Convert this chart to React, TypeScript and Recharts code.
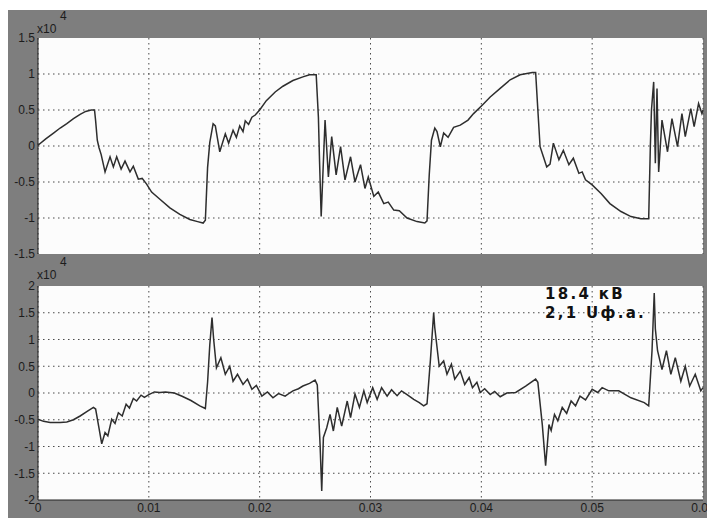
import { LineChart, Line, XAxis, YAxis, CartesianGrid, ReferenceLine } from "recharts";

// time in ms, values in units of 1e4
const topT = [
  0, 0.7, 1.4, 2.0, 2.6, 3.2, 3.8, 4.3, 4.8, 5.1, 5.2, 5.35, 5.5, 5.7, 6.05, 6.5, 6.8, 7.1, 7.5, 7.85,
  8.3, 8.6, 9.05, 9.4, 9.8, 10.25, 11.0, 11.9, 12.8, 13.7, 14.4, 14.9, 15.1, 15.3, 15.5, 15.8, 16.0, 16.4, 16.9, 17.2,
  17.6, 17.9, 18.2, 18.5, 18.7, 19.0, 19.3, 19.6, 20.0, 20.6, 21.4, 22.1, 23.0, 23.9, 24.5, 25.1, 25.3, 25.4, 25.55, 25.65,
  25.9, 26.2, 26.5, 26.9, 27.3, 27.7, 28.2, 28.6, 29.1, 29.5, 29.8, 30.3, 30.7, 31.2, 31.6, 32.1, 32.6, 33.3, 34.2, 34.9,
  35.1, 35.3, 35.5, 35.8, 36.0, 36.3, 36.6, 37.0, 37.5, 38.1, 38.8, 39.3, 40.1, 40.8, 41.7, 42.6, 43.5, 44.6, 44.9, 45.1,
  45.3, 45.6, 45.9, 46.2, 46.5, 47.0, 47.4, 47.9, 48.3, 48.8, 49.1, 49.4, 50.0, 50.8, 51.6, 52.6, 53.5, 54.4, 55.1, 55.25,
  55.35, 55.55, 55.7, 55.85, 56.0, 56.3, 56.8, 57.2, 57.7, 58.1, 58.4, 58.9, 59.2, 59.6, 59.9, 60.0,
];
const topV = [
  0.01, 0.1, 0.18, 0.25, 0.31, 0.38, 0.44, 0.48, 0.5, 0.5, 0.35, 0.08, -0.02, -0.12, -0.36, -0.15, -0.29, -0.15, -0.32, -0.21,
  -0.36, -0.28, -0.46, -0.45, -0.53, -0.64, -0.74, -0.86, -0.95, -1.02, -1.05, -1.07, -1.03, -0.3, 0.05, 0.31, 0.28, -0.08, 0.17, 0.04,
  0.22, 0.12, 0.28, 0.2, 0.35, 0.3, 0.4, 0.43, 0.5, 0.63, 0.75, 0.83, 0.91, 0.96, 0.99, 0.99, 0.4, -0.2, -0.98, -0.6,
  0.36, -0.43, 0.13, -0.4, -0.01, -0.47, -0.15, -0.5, -0.26, -0.59, -0.43, -0.7, -0.64, -0.8, -0.78, -0.89, -0.9, -1.0, -1.05, -1.07,
  -1.04, -0.4, 0.08, 0.25, 0.2, -0.01, 0.18, 0.12, 0.26, 0.29, 0.36, 0.45, 0.57, 0.68, 0.8, 0.92, 0.99, 1.02, 1.02, 0.5,
  -0.01, -0.15, -0.29, -0.25, 0.04, -0.19, -0.06, -0.26, -0.17, -0.38, -0.36, -0.47, -0.54, -0.66, -0.8, -0.91, -0.98, -1.01, -1.01, 0.0,
  0.5, 0.89, -0.24, 0.8, -0.36, 0.36, -0.08, 0.38, -0.01, 0.45, 0.13, 0.52, 0.27, 0.59, 0.45, 0.5,
];

const bottomT = [
  0, 0.5, 1.1, 2.0, 2.6, 3.2, 3.8, 4.4, 5.0, 5.2, 5.5, 5.75, 6.05, 6.3, 6.65, 6.95, 7.25, 7.6, 7.95, 8.25,
  8.6, 8.9, 9.3, 9.6, 10.0, 10.5, 11.0, 11.5, 12.3, 13.0, 13.8, 14.6, 15.1, 15.3, 15.5, 15.7, 15.85, 16.1, 16.5, 16.9,
  17.3, 17.6, 18.0, 18.5, 18.9, 19.3, 19.7, 20.2, 20.7, 21.2, 21.7, 22.3, 22.7, 23.0, 23.5, 23.9, 24.5, 25.0, 25.2, 25.45,
  25.6, 25.75, 26.05, 26.35, 26.65, 27.0, 27.4, 27.9, 28.2, 28.6, 29.0, 29.4, 29.7, 30.2, 30.6, 31.0, 31.5, 31.9, 32.4, 32.8,
  33.3, 33.9, 34.4, 34.8, 35.1, 35.4, 35.7, 35.8, 36.2, 36.6, 36.9, 37.3, 37.6, 38.1, 38.5, 38.9, 39.2, 39.6, 39.9, 40.3,
  40.8, 41.2, 41.7, 42.3, 43.1, 44.0, 44.9, 45.1, 45.5, 45.8, 46.1, 46.3, 46.6, 46.9, 47.3, 47.7, 48.1, 48.5, 48.9, 49.4,
  50.0, 50.5, 50.9, 51.5, 52.4, 53.5, 54.7, 55.1, 55.4, 55.6, 55.7, 55.9, 56.3, 56.7, 57.1, 57.5, 58.0, 58.4, 58.8, 59.3,
  59.8, 60.0,
];
const bottomV = [
  -0.49, -0.53, -0.55, -0.55, -0.54, -0.5, -0.43, -0.35, -0.27, -0.3, -0.65, -0.95, -0.74, -0.8, -0.49, -0.57, -0.37, -0.43, -0.21, -0.28,
  -0.1, -0.15, -0.04, -0.08, -0.03, 0.02, 0.01, 0.02, 0.0, -0.06, -0.14, -0.24, -0.29, 0.2, 0.9, 1.41, 1.0, 0.47, 0.66, 0.35,
  0.5, 0.22, 0.35, 0.16, 0.26, 0.07, 0.14, -0.06, 0.02, -0.09, -0.01, -0.06, 0.0, 0.04, 0.08, 0.13, 0.18, 0.24, 0.15, -0.96,
  -1.83, -0.83, -0.65, -0.4, -0.71, -0.27, -0.62, -0.15, -0.46, -0.02, -0.27, 0.04, -0.18, 0.1, -0.12, 0.1, -0.06, 0.06, -0.05, 0.04,
  -0.03, -0.12, -0.18, -0.24, -0.2, 0.6, 1.5, 1.22, 0.5, 0.6, 0.35, 0.54, 0.26, 0.41, 0.16, 0.29, 0.1, 0.2, 0.01, 0.08,
  -0.03, 0.03, -0.07, 0.0, 0.01, 0.13, 0.26, 0.2, -0.59, -1.36, -0.59, -0.7, -0.4, -0.52, -0.27, -0.38, -0.15, -0.24, -0.06, -0.13,
  0.07, 0.01, 0.1, 0.04, 0.04, -0.09, -0.18, -0.24, 0.79, 1.87, 1.2, 0.79, 0.44, 0.79, 0.35, 0.66, 0.22, 0.5, 0.13, 0.35,
  0.04, 0.1,
];

const xTicks = [0, 10, 20, 30, 40, 50, 60];
const topTicks = [-1.5, -1, -0.5, 0, 0.5, 1, 1.5];
const bottomTicks = [-2, -1.5, -1, -0.5, 0, 0.5, 1, 1.5, 2];
const noteLines = ["18.4 кВ", "2,1 Uф.а."];

const topData = topT.map((t, i) => ({ t, v: topV[i] }));
const bottomData = bottomT.map((t, i) => ({ t, v: bottomV[i] }));

const FONT = '"Liberation Sans", Arial, sans-serif';
const GRID = "#4a4a4a";
const DASH = "1.5 3.5";
const tickStyle = { fill: "#1c1c1c", fontSize: 12, fontFamily: FONT };
const fmtX = (v: number) => (v === 0 ? "0" : String(v / 1000));
const fmtY = (v: number) => String(v);
const emptyTick = () => <g />;

type PanelProps = {
  data: { t: number; v: number }[];
  yTicks: number[];
  top: number;
  height: number;
  marginTop: number;
  showX: boolean;
};

const Panel = ({ data, yTicks, top, height, marginTop, showX }: PanelProps) => {
  const yMin = yTicks[0];
  const yMax = yTicks[yTicks.length - 1];
  return (
    <div style={{ position: "absolute", left: 0, top }}>
      <LineChart width={720} height={height} data={data} margin={{ top: marginTop, right: 17, left: 0, bottom: showX ? 0 : 16 }}>
        <CartesianGrid fill="#fcfcfc" stroke={GRID} strokeDasharray={DASH} horizontal={false} />
        {yTicks.slice(1, -1).map((v) => (
          <ReferenceLine key={v} y={v} stroke={GRID} strokeDasharray={DASH} strokeWidth={1} />
        ))}
        <XAxis
          dataKey="t"
          type="number"
          domain={[0, 60]}
          ticks={xTicks}
          tickFormatter={fmtX}
          tick={showX ? tickStyle : emptyTick}
          tickLine={false}
          tickSize={0}
          tickMargin={3}
          height={showX ? 18 : 0}
          axisLine={{ stroke: "#222" }}
          interval={0}
        />
        <XAxis
          xAxisId="top"
          orientation="top"
          dataKey="t"
          type="number"
          domain={[0, 60]}
          ticks={xTicks}
          tick={emptyTick}
          mirror
          tickSize={6}
          height={0}
          axisLine={{ stroke: "#222" }}
          tickLine={{ stroke: "#222" }}
          interval={0}
        />
        <XAxis
          xAxisId="inner"
          dataKey="t"
          type="number"
          domain={[0, 60]}
          ticks={xTicks}
          tick={emptyTick}
          mirror
          tickSize={6}
          height={0}
          axisLine={false}
          tickLine={{ stroke: "#222" }}
          interval={0}
        />
        <YAxis
          type="number"
          domain={[yMin, yMax]}
          ticks={yTicks}
          tickFormatter={fmtY}
          tick={tickStyle}
          tickLine={false}
          tickSize={0}
          tickMargin={3}
          width={38}
          axisLine={{ stroke: "#222" }}
          interval={0}
        />
        <Line
          type="linear"
          dataKey="v"
          stroke="#2e2e2e"
          strokeWidth={1.5}
          dot={false}
          isAnimationActive={false}
        />
      </LineChart>
    </div>
  );
};

const Exponent = ({ top }: { top: number }) => (
  <div style={{ position: "absolute", left: 37, top, fontFamily: FONT, fontSize: 12, color: "#1c1c1c", lineHeight: "14px" }}>
    <span style={{ position: "absolute", left: 0, top: 13 }}>x10</span>
    <span style={{ position: "absolute", left: 23, top: 0 }}>4</span>
  </div>
);

export default function App() {
  return (
    <div style={{ position: "absolute", left: 0, top: 0, width: 707, height: 518, overflow: "hidden", background: "#ffffff" }}>
      <div style={{ position: "absolute", left: 8, top: 10, width: 699, height: 508, background: "#7e7e7e" }} />
      <Panel data={topData} yTicks={topTicks} top={0} height={270} marginTop={38} showX={false} />
      <Panel data={bottomData} yTicks={bottomTicks} top={250} height={268} marginTop={36} showX={true} />
      <Exponent top={9} />
      <Exponent top={255} />
      <div
        style={{
          position: "absolute",
          left: 545,
          top: 285,
          fontFamily: '"DejaVu Sans", sans-serif',
          fontWeight: "bold",
          fontSize: 15,
          letterSpacing: 2.3,
          lineHeight: "19px",
          color: "#111",
          whiteSpace: "nowrap",
        }}
      >
        {noteLines.map((s) => (
          <div key={s}>{s}</div>
        ))}
      </div>
    </div>
  );
}
